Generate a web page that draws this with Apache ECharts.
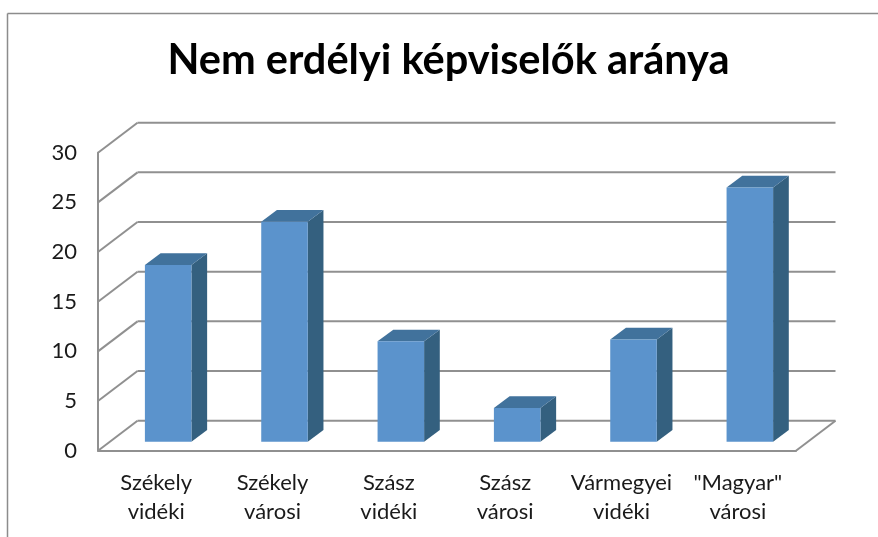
<!DOCTYPE html>
<html><head><meta charset="utf-8">
<style>html,body{margin:0;padding:0;background:#fff}#c{width:878px;height:537px}</style>
<script src="https://cdn.jsdelivr.net/npm/echarts@6/dist/echarts.min.js"></script>
</head><body><div id="c"></div>
<script>
const titleText = 'Nem erdélyi képviselők aránya';
const categories = ['Székely\nvidéki','Székely\nvárosi','Szász\nvidéki','Szász\nvárosi','Vármegyei\nvidéki','"Magyar"\nvárosi'];
const values = [17.8, 22.15, 10.1, 3.4, 10.3, 25.6];
const yTicks = [0, 5, 10, 15, 20, 25, 30];
const FONT = 'Lato, "Open Sans", sans-serif';
const GRID = '#909090';
const DEPTH = [39.5, -30];          // wall offset from front plane
const BAR_POS = [12, -9];           // bar front face offset from front plane
const BAR_DEPTH = [15.7, -11.7];    // bar depth
const BAR_RATIO = 0.4;

const chart = echarts.init(document.getElementById('c'), null, {renderer:'canvas'});
function line(a,b){return {type:'line',shape:{x1:a[0],y1:a[1],x2:b[0],y2:b[1]},style:{stroke:GRID,lineWidth:2}};}
chart.setOption({
  animation:false,
  backgroundColor:'#fff',
  title:{text:titleText,left:443.5,top:35,textAlign:'center',
    textStyle:{fontFamily:FONT,fontWeight:'bold',fontSize:41.5,color:'#000'}},
  graphic:[
    {type:'line',shape:{x1:7.5,y1:13.5,x2:878,y2:13.5},style:{stroke:'#8c8c8c',lineWidth:1.5}},
    {type:'line',shape:{x1:7.5,y1:13.5,x2:7.5,y2:537},style:{stroke:'#8c8c8c',lineWidth:1.5}}
  ],
  grid:{left:98,right:82,top:152.7,bottom:86.3},
  xAxis:{type:'category',data:categories,
    axisLine:{show:true,lineStyle:{color:GRID,width:2}},axisTick:{show:false},
    axisLabel:{fontFamily:FONT,fontSize:22,color:'#1a1a1a',lineHeight:29,margin:18,interval:0}},
  yAxis:{type:'value',min:0,max:30,interval:5,
    axisLine:{show:true,lineStyle:{color:GRID,width:2}},axisTick:{show:false},splitLine:{show:false},
    axisLabel:{fontFamily:FONT,fontSize:22,color:'#1a1a1a',margin:21,padding:[6,0,0,0]}},
  series:[
    {type:'custom',z:1,silent:true,coordinateSystem:'cartesian2d',clip:false,
      data:yTicks.map(t=>[0,t]),encode:{x:0,y:1},
      renderItem(params,api){
        const p=api.coord([0,api.value(1)]);
        const x0=params.coordSys.x, x1=x0+params.coordSys.width, y=p[1];
        const back=[x0+DEPTH[0],y+DEPTH[1]];
        const ch=[line([x0,y],back),line(back,[x1+DEPTH[0],y+DEPTH[1]])];
        if(api.value(1)===0) ch.push(line([x1,y],[x1+DEPTH[0],y+DEPTH[1]]));
        return {type:'group',children:ch};
      }},
    {type:'custom',z:2,silent:true,coordinateSystem:'cartesian2d',clip:false,
      data:values.map((v,i)=>[i,v]),encode:{x:0,y:1},
      renderItem(params,api){
        const top=api.coord([api.value(0),api.value(1)]), base=api.coord([api.value(0),0]);
        const w=api.size([1,0])[0]*BAR_RATIO;
        const l=top[0]-w/2+BAR_POS[0], r=l+w, t=top[1]+BAR_POS[1], b=base[1]+BAR_POS[1];
        const dx=BAR_DEPTH[0], dy=BAR_DEPTH[1];
        return {type:'group',children:[
          {type:'polygon',shape:{points:[[r,t],[r+dx,t+dy],[r+dx,b+dy],[r,b]]},style:{fill:'#34607F'}},
          {type:'polygon',shape:{points:[[l,t],[l+dx,t+dy],[r+dx,t+dy],[r,t]]},style:{fill:'#41729C'}},
          {type:'rect',shape:{x:l,y:t,width:w,height:b-t},style:{fill:'#5B93CC'}}
        ]};
      }}
  ]
});
</script></body></html>
